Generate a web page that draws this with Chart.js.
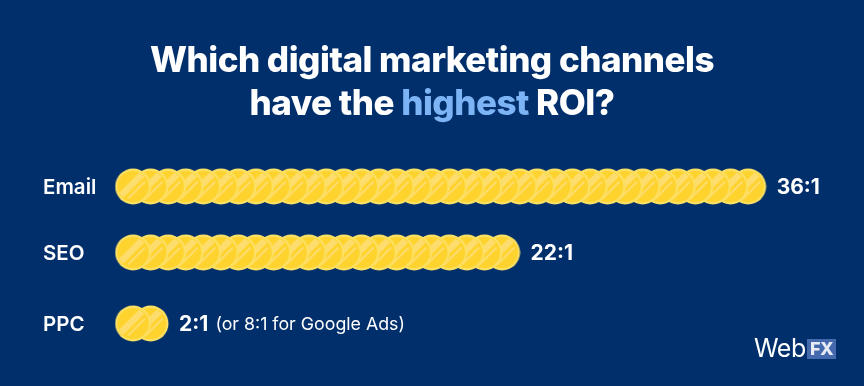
<!DOCTYPE html>
<html>
<head>
<meta charset="utf-8">
<script src="https://cdn.jsdelivr.net/npm/chart.js@4"></script>
<style>
  html, body { margin: 0; padding: 0; background: #002f6c; }
  #wrap { position: relative; width: 864px; height: 386px; overflow: hidden; font-family: Inter, sans-serif; }
  #myChart { position: absolute; left: 0; top: 0; }
  #title { position: absolute; left: 0; top: 38px; width: 864px; text-align: center; color: #fff;
           font-size: 35px; font-weight: 800; line-height: 43px; letter-spacing: -0.5px; }
  #title span { color: #7db4f5; }
  #logo { position: absolute; left: 754px; top: 336px; height: 24px; color: #fff; font-size: 25px; line-height: 24px; letter-spacing: -0.5px; }
  #logo b { position: absolute; left: 53px; top: 3px; width: 29px; height: 20px; background: #4569ad; color: #e6ebf3;
            font-size: 18px; line-height: 20px; font-weight: 800; text-align: center; letter-spacing: -0.5px; }
</style>
</head>
<body>
<div id="wrap">
  <canvas id="myChart" width="864" height="386"></canvas>
  <div id="title">Which digital marketing channels<br>have the <span>highest</span> ROI?</div>
  <div id="logo">Web<b>FX</b></div>
</div>
<script>
const categories = ['Email', 'SEO', 'PPC']
const coinCounts = [36, 22, 2]
const ratioLabels = ['36:1', '22:1', '2:1']
const ratioNotes = ['', '', '(or 8:1 for Google Ads)']

// rows are not evenly spaced in the original
const rowY = [36.5, 102.5, 173.5]

// one coin, used as the point image
const makeCoin = () => {
    const c = document.createElement('canvas')
    c.width = 37
    c.height = 37
    const g = c.getContext('2d')
    const m = 18.5
    g.beginPath(); g.arc(m, m, 17.9, 0, Math.PI * 2); g.fillStyle = '#fce063'; g.fill()
    g.beginPath(); g.arc(m, m, 15.6, 0, Math.PI * 2); g.fillStyle = '#ffd32e'; g.fill()
    g.save()
    g.beginPath(); g.arc(m, m, 15, 0, Math.PI * 2); g.clip()
    g.translate(m, m)
    g.rotate(-Math.PI / 4)
    g.fillStyle = '#fddd6e'
    g.fillRect(-16, -5.5, 32, 6.5)
    g.fillRect(-12, 4, 24, 2)
    g.restore()
    return c
}
const coin = makeCoin()

// left coin sits on top, so draw each row from the right
const datasets = categories.map((name, i) => {
    const points = []
    for (let n = coinCounts[i]; n >= 1; n--) points.push({x: n, y: rowY[i]})
    return {label: name, data: points, pointStyle: coin, showLine: false, clip: false}
})

const ratioText = {
    id: 'ratioText',
    afterDatasetsDraw(chart) {
        const ctx = chart.ctx
        const xs = chart.scales.x
        const ys = chart.scales.y
        ctx.save()
        ctx.textBaseline = 'middle'
        ctx.fillStyle = '#fff'
        categories.forEach((name, i) => {
            const x = xs.getPixelForValue(coinCounts[i]) + 28.5
            const y = ys.getPixelForValue(rowY[i]) + 1.5
            ctx.font = '700 21px Inter'
            ctx.fillText(ratioLabels[i], x, y)
            if (ratioNotes[i]) {
                const w = ctx.measureText(ratioLabels[i]).width
                ctx.font = '400 17.8px Inter'
                ctx.fillText(ratioNotes[i], x + w + 7, y)
            }
        })
        ctx.restore()
    }
}

new Chart(document.getElementById('myChart').getContext('2d'), {
    type: 'scatter',
    data: {datasets: datasets},
    plugins: [ratioText],
    options: {
        responsive: false,
        animation: false,
        events: [],
        layout: {padding: {left: 43, right: 28, top: 150, bottom: 36}},
        plugins: {legend: {display: false}, tooltip: {enabled: false}},
        scales: {
            x: {
                type: 'linear', min: 0, max: 41, display: false
            },
            y: {
                type: 'linear', min: 0, max: 200, reverse: true,
                grid: {display: false},
                border: {display: false},
                afterFit: (scale) => { scale.width = 72.43 },
                // labels sit a little below the coin centres
                afterBuildTicks: (scale) => { scale.ticks = rowY.map(v => ({value: v + 1.5})) },
                ticks: {
                    autoSkip: false,
                    crossAlign: 'far',
                    padding: 0,
                    color: '#fff',
                    font: {family: 'Inter', size: 20.5, weight: '600'},
                    callback: (v, i) => categories[i]
                }
            }
        }
    }
})
</script>
</body>
</html>
